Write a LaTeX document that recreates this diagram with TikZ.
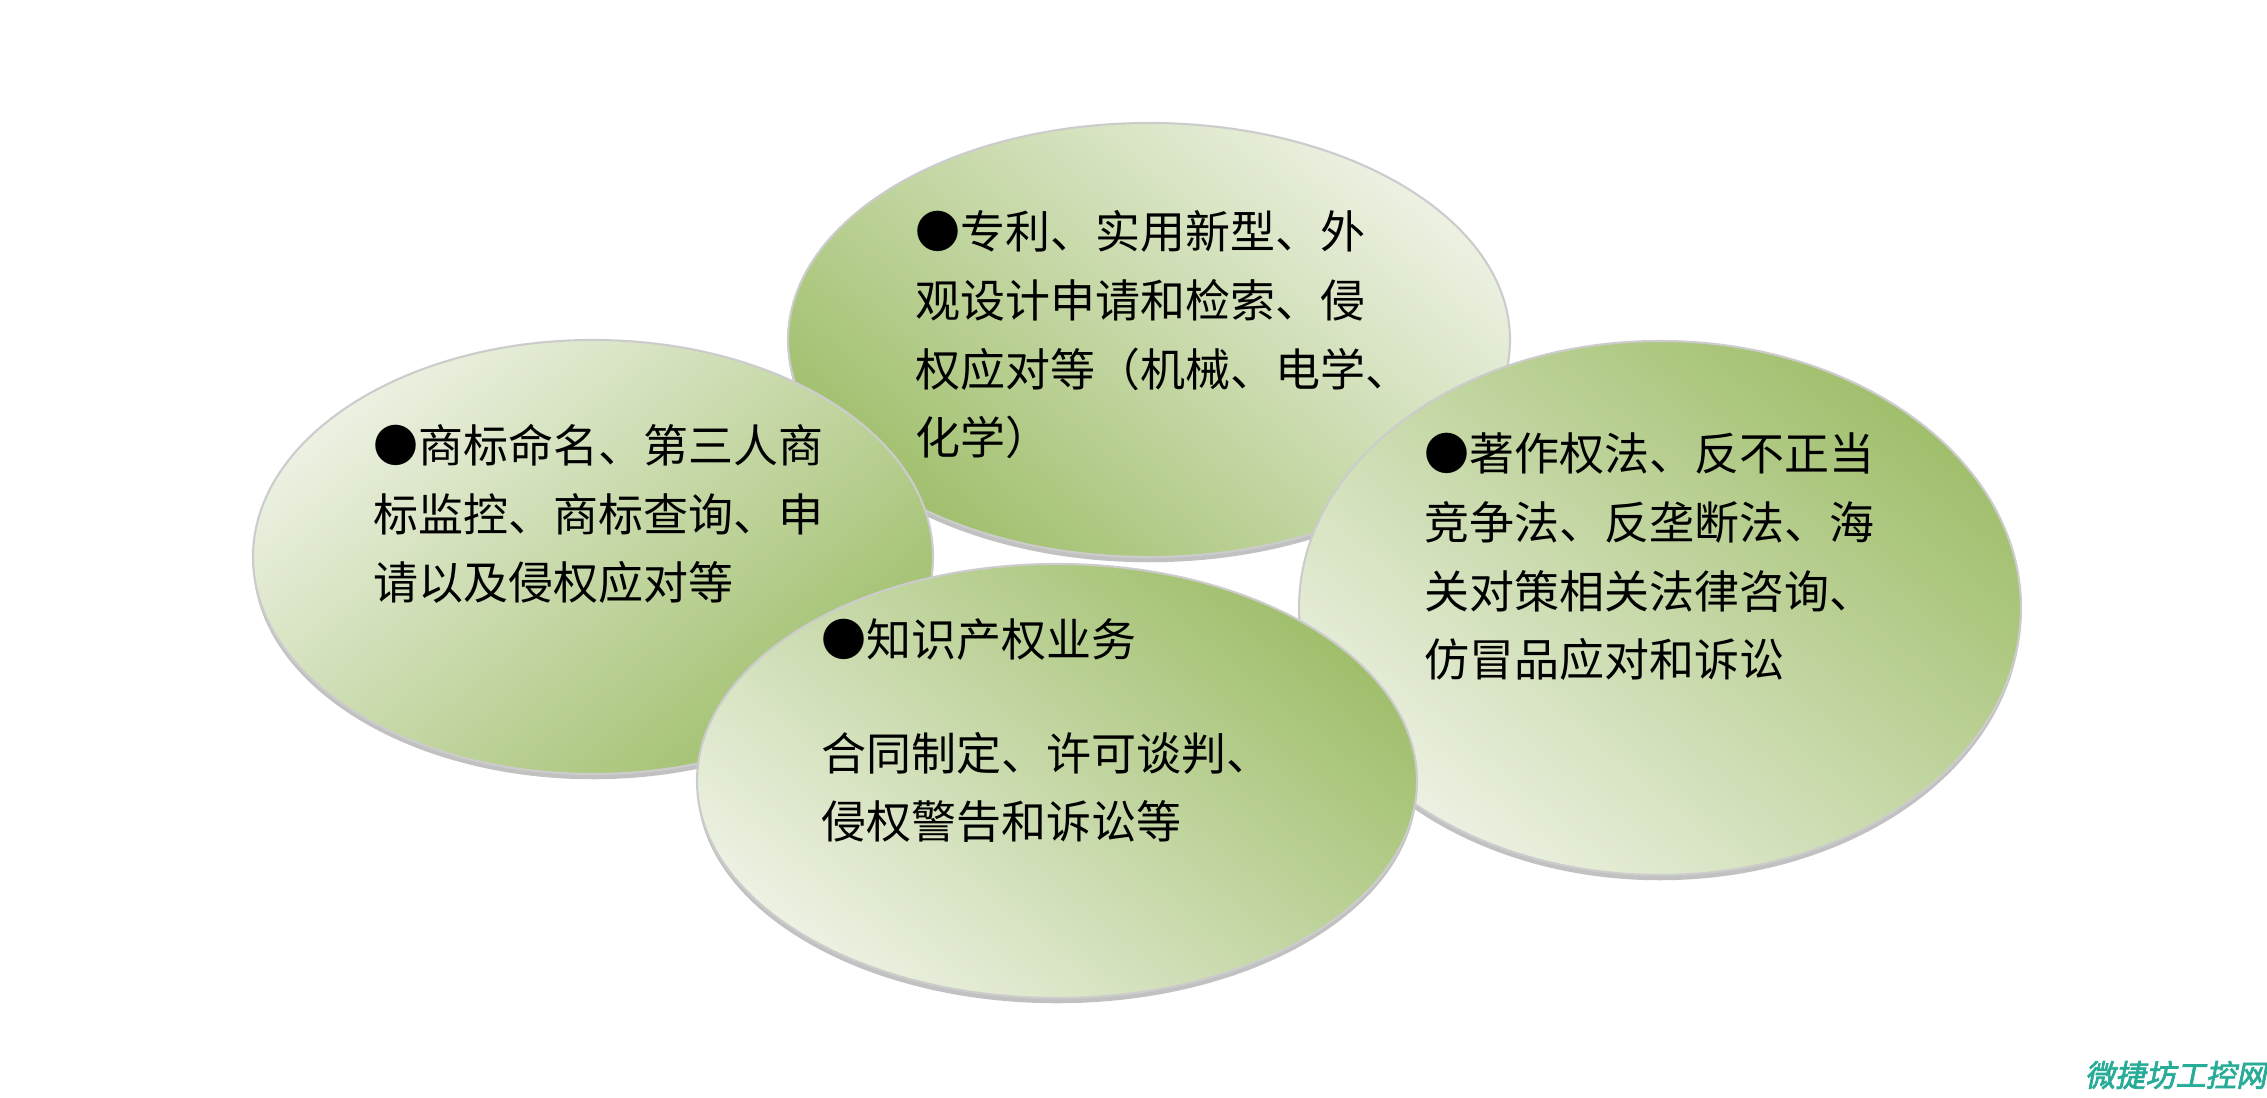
\documentclass[tikz,border=0pt]{standalone}
\usepackage{fontspec}
\newfontfamily\cjk{Noto Sans CJK SC}
\newfontfamily\markfont[FakeSlant=0.2,FakeBold=2.5]{Noto Sans CJK SC}
\usepackage{xcolor}
\usepackage{tikz}
\usetikzlibrary{shapes.geometric,shadows}
\definecolor{leafdark}{RGB}{160,191,108}
\definecolor{leaflight}{RGB}{236,241,226}
\definecolor{marktone}{RGB}{40,172,152}

\begin{document}
\begin{tikzpicture}[
    blob/.style={ellipse, draw=gray!40, line width=0.6pt, inner sep=0pt,
      drop shadow={shadow xshift=0pt, shadow yshift=-1.5pt, fill=gray!60, opacity=0.8}},
    blurb/.style={font=\cjk\fontsize{12.8}{19.6}\selectfont, align=left, anchor=base west, inner sep=0pt}]
  \useasboundingbox (0,0) rectangle (22.67,10.98);
  % back to front: patent, trademark, law, ip
  % (blurb base = baseline of its last line)
  \node[blob, minimum width=7.22cm, minimum height=4.34cm,
        top color=leaflight, bottom color=leafdark, shading angle=-40] (patent) at (11.49,7.58) {};
  \node[blurb] (patenttext) at (9.15,6.43) {●专利、实用新型、外\\观设计申请和检索、侵\\权应对等（机械、电学、\\化学）};
  \node[blob, minimum width=6.80cm, minimum height=4.34cm,
        top color=leaflight, bottom color=leafdark, shading angle=40] (mark) at (5.93,5.41) {};
  \node[blurb] (marktext) at (3.73,4.98) {●商标命名、第三人商\\标监控、商标查询、申\\请以及侵权应对等};
  \node[blob, minimum width=7.22cm, minimum height=5.34cm,
        top color=leafdark, bottom color=leaflight, shading angle=-40] (law) at (16.60,4.90) {};
  \node[blurb] (lawtext) at (14.24,4.21) {●著作权法、反不正当\\竞争法、反垄断法、海\\关对策相关法律咨询、\\仿冒品应对和诉讼};
  \node[blob, minimum width=7.20cm, minimum height=4.34cm,
        top color=leafdark, bottom color=leaflight, shading angle=-40] (ip) at (10.57,3.17) {};
  \node[blurb] (iptext) at (8.21,2.59) {●知识产权业务\\[12.8pt]合同制定、许可谈判、\\侵权警告和诉讼等};
  % watermark
  \node[font=\markfont\fontsize{8.6}{10}\selectfont, text=marktone, anchor=east, inner sep=0pt] (stamp) at (22.67,0.23) {微捷坊工控网};
\end{tikzpicture}
\end{document}
